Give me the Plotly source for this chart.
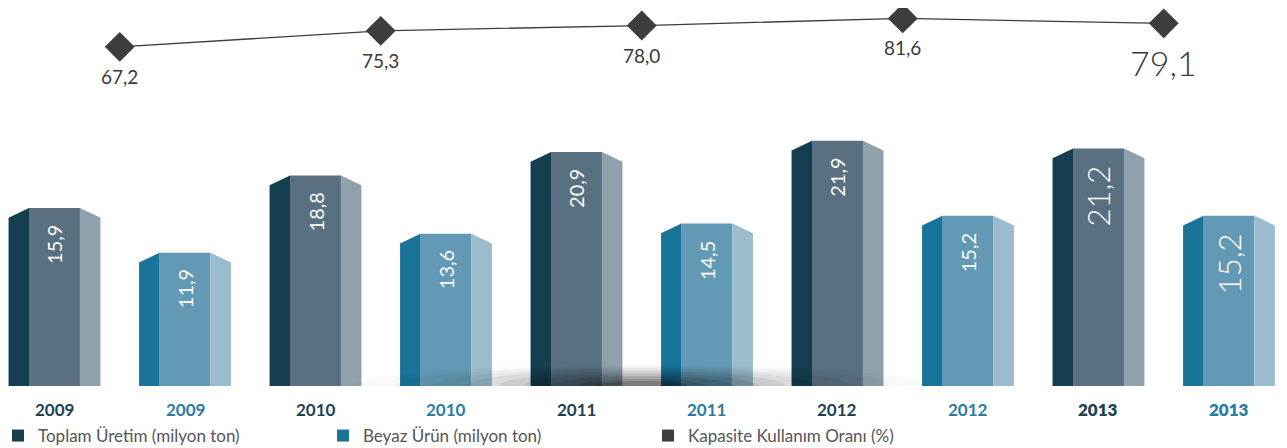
import plotly.graph_objects as go

# ---- data ----
years = ['2009', '2009', '2010', '2010', '2011', '2011', '2012', '2012', '2013', '2013']
series = ['toplam', 'beyaz'] * 5
production = [15.9, 11.9, 18.8, 13.6, 20.9, 14.5, 21.9, 15.2, 21.2, 15.2]
value_labels = ['15,9', '11,9', '18,8', '13,6', '20,9', '14,5', '21,9', '15,2', '21,2', '15,2']

cap_years = ['2009', '2010', '2011', '2012', '2013']
capacity = [67.2, 75.3, 78.0, 81.6, 79.1]
capacity_labels = ['67,2', '75,3', '78,0', '81,6', '79,1']

legend_names = ['Toplam Üretim (milyon ton)', 'Beyaz Ürün (milyon ton)', 'Kapasite Kullanım Oranı (%)']

# ---- styling ----
# page adds an 8px body margin; the last few px at the bottom fall outside the window
W, H = 1279, 446
FONT = 'Lato, "Open Sans", sans-serif'
COLORS = {
    'toplam': dict(left='#153e50', front='#587080', right='#8fa1aa', year='#1d4256'),
    'beyaz':  dict(left='#1a7399', front='#6299b4', right='#9bbccd', year='#2b7ca3'),
    'line':   '#3d3d3d',
}
FRONT_W = 0.39   # front face width (x units)
SIDE_W = 0.157   # side face width
SLANT = 0.87     # drop of side faces at outer edge (y units)

x_pos = list(range(len(years)))

fig = go.Figure()

# side faces of the prisms, computed from the bar values
for key in ['toplam', 'beyaz']:
    lx, ly, rx, ry = [], [], [], []
    for i, (s, v) in enumerate(zip(series, production)):
        if s != key:
            continue
        xf0 = i - FRONT_W / 2
        xf1 = i + FRONT_W / 2
        lx += [xf0 - SIDE_W, xf0 - SIDE_W, xf0, xf0, None]
        ly += [0, v - SLANT, v, 0, None]
        rx += [xf1, xf1, xf1 + SIDE_W, xf1 + SIDE_W, None]
        ry += [0, v, v - SLANT, 0, None]
    fig.add_trace(go.Scatter(x=lx, y=ly, mode='lines', fill='toself',
                             fillcolor=COLORS[key]['left'], line=dict(width=0),
                             hoverinfo='skip', showlegend=False))
    fig.add_trace(go.Scatter(x=rx, y=ry, mode='lines', fill='toself',
                             fillcolor=COLORS[key]['right'], line=dict(width=0),
                             hoverinfo='skip', showlegend=False))

# front faces
fig.add_trace(go.Bar(
    x=x_pos, y=production, width=FRONT_W,
    marker=dict(color=[COLORS[s]['front'] for s in series], line=dict(width=0)),
    showlegend=False, hoverinfo='skip'
))

# capacity line
cap_x = [2 * i + 0.5 for i in range(len(cap_years))]
fig.add_trace(go.Scatter(
    x=cap_x, y=capacity, yaxis='y2', mode='lines+markers',
    line=dict(color=COLORS['line'], width=1.3),
    marker=dict(symbol='diamond', size=23, color=COLORS['line']),
    showlegend=False, hoverinfo='skip'
))

# legend entries
for name, col in zip(legend_names, [COLORS['toplam']['left'], COLORS['beyaz']['left'], COLORS['line']]):
    fig.add_trace(go.Scatter(x=[None], y=[None], mode='markers', name=name,
                             marker=dict(symbol='square', size=15, color=col)))

annotations = []
# values inside bars
for i, (v, lab) in enumerate(zip(production, value_labels)):
    big = years[i] == '2013'
    annotations.append(dict(
        x=i, y=v, xref='x', yref='y', text=lab, showarrow=False,
        textangle=-90, yanchor='top', xanchor='center', yshift=-15,
        font=dict(family=FONT, size=31 if big else 20, color='white',
                  weight=300 if big else 400)
    ))
# year labels
for i, (yr, s) in enumerate(zip(years, series)):
    big = yr == '2013'
    annotations.append(dict(
        x=i, y=1 - 401 / H, xref='x', yref='paper', text=yr,
        showarrow=False, yanchor='middle',
        font=dict(family=FONT, size=17, color=COLORS[s]['year'], weight=800 if big else 700)
    ))
# capacity labels
for i, (v, lab) in enumerate(zip(capacity, capacity_labels)):
    big = cap_years[i] == '2013'
    annotations.append(dict(
        x=cap_x[i], y=v, xref='x', yref='y2', text=lab, showarrow=False,
        yanchor='top', yshift=-17 if big else -16,
        font=dict(family=FONT, size=34 if big else 19, color='#3a3a3a',
                  weight=300 if big else 400)
    ))

# soft floor shadow under the middle bars (layered half-ellipses)
shapes = []
cx = 4.5
layers = [(2.2, 1.9, 0.025), (1.9, 1.75, 0.03), (1.6, 1.6, 0.04), (1.35, 1.45, 0.05),
          (1.1, 1.3, 0.065), (0.9, 1.1, 0.08), (0.7, 0.9, 0.1), (0.5, 0.65, 0.13),
          (0.35, 0.45, 0.16)]
for half_w, h, a in layers:
    x0, x1 = cx - half_w, cx + half_w
    k = 0.5523
    path = (f'M {x0},0 C {x0},{h*k} {cx-half_w*k},{h} {cx},{h} '
            f'C {cx+half_w*k},{h} {x1},{h*k} {x1},0 Z')
    shapes.append(dict(type='path', path=path, xref='x', yref='y',
                       fillcolor=f'rgba(0,0,0,{a})', line=dict(width=0), layer='above'))

fig.update_layout(
    width=W, height=H,
    margin=dict(l=0, r=0, t=0, b=0),
    paper_bgcolor='white', plot_bgcolor='white',
    font=dict(family=FONT, size=17, color='#555555'),
    xaxis=dict(range=[-0.3563, 9.4445], visible=False, fixedrange=True),
    yaxis=dict(range=[-6.071, 33.75], visible=False, fixedrange=True),
    yaxis2=dict(range=[-139.06, 86.88], overlaying='y', visible=False, fixedrange=True),
    legend=dict(orientation='h', x=0, xanchor='left', y=0, yanchor='bottom',
                entrywidth=290, itemsizing='constant', indentation=-10,
                font=dict(family=FONT, size=17, color='#555555'),
                bgcolor='rgba(0,0,0,0)'),
    annotations=annotations,
    shapes=shapes,
    barmode='overlay',
)

fig.write_html("out.html")
